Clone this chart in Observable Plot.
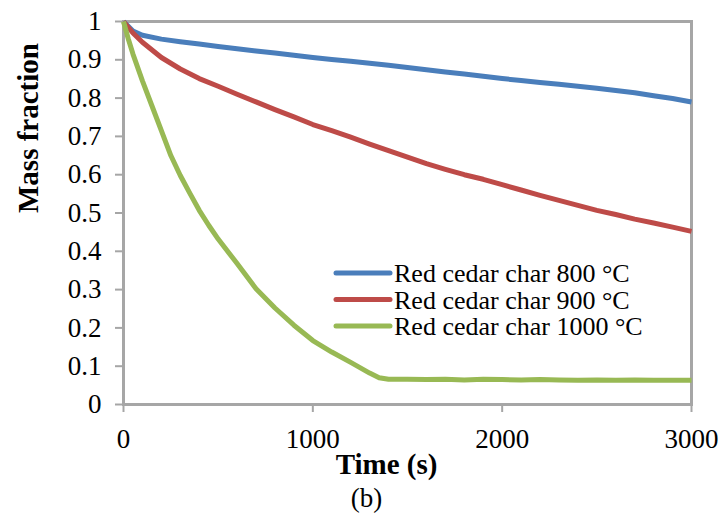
<!DOCTYPE html>
<html>
<head>
<meta charset="utf-8">
<script src="https://cdn.jsdelivr.net/npm/d3@7"></script>
<script src="https://cdn.jsdelivr.net/npm/@observablehq/plot@0.6"></script>
<style>
  html, body { margin: 0; padding: 0; background: #fff; }
  #chart { width: 722px; height: 521px; }
</style>
</head>
<body>
<div id="chart"></div>
<script>
const seriesNames = ["Red cedar char 800 °C", "Red cedar char 900 °C", "Red cedar char 1000 °C"];
const seriesColors = ["#4a7ebb", "#be4b48", "#98b954"];

const time800 = [0, 50, 100, 200, 300, 400, 500, 600, 700, 800, 900, 1000, 1100, 1200, 1300, 1400, 1500, 1600, 1700, 1800, 1900, 2000, 2100, 2200, 2300, 2400, 2500, 2600, 2700, 2800, 2900, 3000];
const mass800 = [1.0, 0.975, 0.964, 0.954, 0.947, 0.941, 0.935, 0.929, 0.923, 0.918, 0.912, 0.906, 0.901, 0.896, 0.891, 0.886, 0.880, 0.874, 0.868, 0.863, 0.857, 0.851, 0.846, 0.841, 0.836, 0.831, 0.826, 0.820, 0.814, 0.806, 0.799, 0.790];

const time900 = [0, 50, 100, 200, 300, 400, 500, 600, 700, 800, 900, 1000, 1100, 1200, 1300, 1400, 1500, 1600, 1700, 1800, 1900, 2000, 2100, 2200, 2300, 2400, 2500, 2600, 2700, 2800, 2900, 3000];
const mass900 = [1.0, 0.970, 0.946, 0.906, 0.876, 0.851, 0.831, 0.810, 0.790, 0.770, 0.751, 0.731, 0.715, 0.698, 0.680, 0.663, 0.646, 0.629, 0.614, 0.600, 0.588, 0.574, 0.560, 0.546, 0.533, 0.520, 0.507, 0.496, 0.484, 0.474, 0.463, 0.452];

const time1000 = [0, 25, 50, 100, 150, 200, 250, 300, 350, 400, 450, 500, 600, 700, 800, 900, 1000, 1100, 1200, 1300, 1350, 1400, 1500, 1600, 1700, 1800, 1900, 2000, 2100, 2200, 2300, 2400, 2500, 2600, 2700, 2800, 2900, 3000];
const mass1000 = [1.0, 0.955, 0.915, 0.845, 0.780, 0.715, 0.650, 0.598, 0.552, 0.507, 0.468, 0.432, 0.368, 0.302, 0.252, 0.207, 0.167, 0.137, 0.110, 0.082, 0.070, 0.066, 0.066, 0.065, 0.066, 0.064, 0.066, 0.065, 0.064, 0.065, 0.064, 0.063, 0.064, 0.063, 0.064, 0.063, 0.063, 0.063];

const xTicks = [0, 1000, 2000, 3000];
const xTickLabels = ["0", "1000", "2000", "3000"];
const yTicks = [0, 0.1, 0.2, 0.3, 0.4, 0.5, 0.6, 0.7, 0.8, 0.9, 1];
const yTickLabels = ["0", "0.1", "0.2", "0.3", "0.4", "0.5", "0.6", "0.7", "0.8", "0.9", "1"];

const xLabel = "Time (s)";
const yLabel = "Mass fraction";
const caption = "(b)";

const rows = [];
[[time800, mass800], [time900, mass900], [time1000, mass1000]].forEach(([ts, ms], i) => {
  ts.forEach((t, j) => rows.push({ t, m: ms[j], series: seriesNames[i] }));
});

const font = "'Liberation Serif', 'Times New Roman', serif";
const axisGray = "#a6a6a6";

const chart = Plot.plot({
  width: 722,
  height: 521,
  marginLeft: 123,
  marginRight: 31,
  marginTop: 21,
  marginBottom: 117,
  style: { fontFamily: font, fontSize: "27px", color: "#000", background: "#fff", overflow: "visible" },
  x: { domain: [0, 3000] },
  y: { domain: [0, 1] },
  color: { domain: seriesNames, range: seriesColors },
  marks: [
    Plot.axisX({ ticks: xTicks, tickFormat: d => xTickLabels[xTicks.indexOf(d)], tickSize: 8, tickPadding: 16, stroke: axisGray, strokeWidth: 2, label: null, fontSize: 27 }),
    Plot.axisY({ ticks: yTicks, tickFormat: d => yTickLabels[yTicks.indexOf(d)], tickSize: 8, tickPadding: 14, stroke: axisGray, strokeWidth: 2, label: null, fontSize: 27 }),
    Plot.frame({ stroke: axisGray, strokeWidth: 3 }),
    Plot.line(rows, { x: "t", y: "m", z: "series", stroke: "series", strokeWidth: 5, strokeLinejoin: "round", strokeLinecap: "butt" }),
    Plot.text([xLabel], { text: d => d, frameAnchor: "bottom", dx: -21, dy: 69, fontWeight: "bold", fontSize: 29, fill: "#000" }),
    Plot.text([caption], { text: d => d, frameAnchor: "bottom", dx: -41, dy: 102, fontSize: 27, fill: "#000" }),
    Plot.text([yLabel], { text: d => d, frameAnchor: "left", rotate: -90, dx: -95, dy: 0, fontWeight: "bold", fontSize: 29, fill: "#000" })
  ]
});

// inline legend (layout element)
const svg = d3.select(chart);
const legend = svg.append("g")
  .attr("font-family", font)
  .attr("font-size", 26)
  .attr("text-anchor", "start");
const rowY = [273, 299.5, 326];
seriesNames.forEach((name, i) => {
  legend.append("line")
    .attr("x1", 336).attr("x2", 390)
    .attr("y1", rowY[i]).attr("y2", rowY[i])
    .attr("stroke", seriesColors[i]).attr("stroke-width", 5).attr("stroke-linecap", "round");
  legend.append("text")
    .attr("x", 394).attr("y", rowY[i]).attr("dy", "0.35em")
    .attr("text-anchor", "start")
    .attr("fill", "#000")
    .text(name);
});

document.getElementById("chart").appendChild(chart);
</script>
</body>
</html>
